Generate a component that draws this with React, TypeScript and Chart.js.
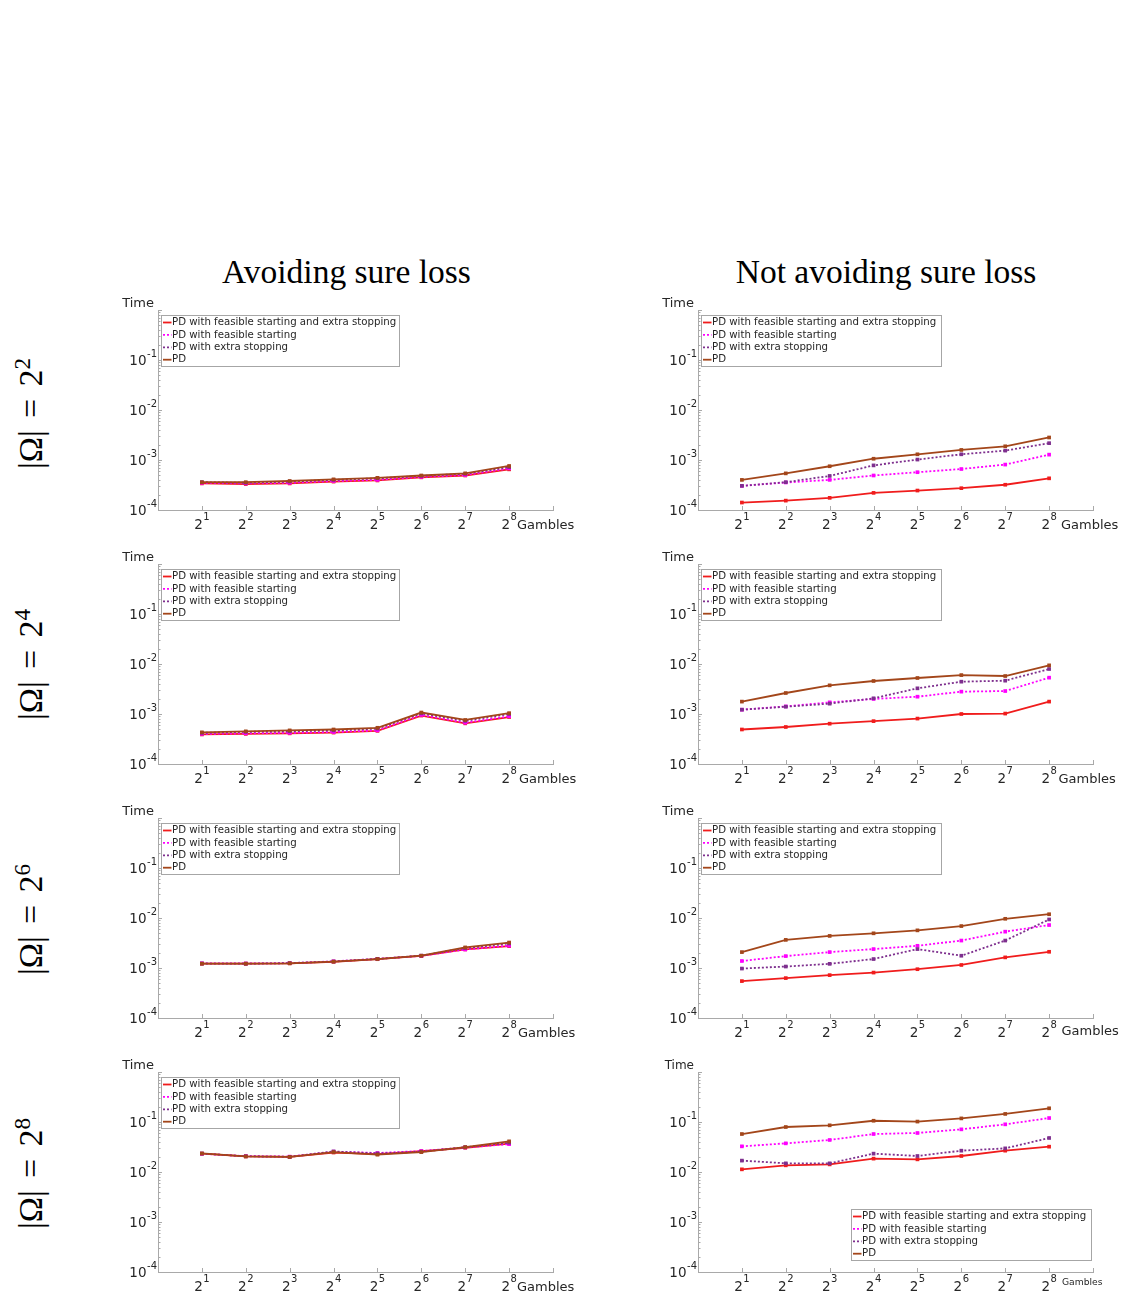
import React, { useEffect, useRef } from "react";
import { Chart, registerables } from "chart.js";

Chart.register(...registerables);

// ---------- data ----------
const exponents = [1, 2, 3, 4, 5, 6, 7, 8];
const seriesLabels = [
  "PD with feasible starting and extra stopping",
  "PD with feasible starting",
  "PD with extra stopping",
  "PD",
];
const yTickValues = [1e-4, 1e-3, 1e-2, 1e-1];
const columnTitles = ["Avoiding sure loss", "Not avoiding sure loss"];
const rowOmegaExponents = [2, 4, 6, 8];
const xAxisName = "Gambles";
const yAxisName = "Time";

// |Ω| = 2^2, avoiding sure loss
const o2AvoidFeasExtra = [3.4e-4, 3.3e-4, 3.4e-4, 3.7e-4, 3.9e-4, 4.5e-4, 4.9e-4, 6.5e-4];
const o2AvoidFeas = [3.5e-4, 3.4e-4, 3.5e-4, 3.8e-4, 4.0e-4, 4.6e-4, 5.0e-4, 6.8e-4];
const o2AvoidExtra = [3.6e-4, 3.5e-4, 3.7e-4, 4.0e-4, 4.3e-4, 4.8e-4, 5.3e-4, 7.2e-4];
const o2AvoidPD = [3.6e-4, 3.6e-4, 3.8e-4, 4.1e-4, 4.4e-4, 4.9e-4, 5.4e-4, 7.6e-4];
// |Ω| = 2^2, not avoiding sure loss
const o2NotFeasExtra = [1.41e-4, 1.54e-4, 1.75e-4, 2.2e-4, 2.45e-4, 2.73e-4, 3.2e-4, 4.3e-4];
const o2NotFeas = [3.04e-4, 3.55e-4, 4.0e-4, 4.9e-4, 5.7e-4, 6.6e-4, 8.1e-4, 1.28e-3];
const o2NotExtra = [3.04e-4, 3.6e-4, 4.8e-4, 7.8e-4, 1.02e-3, 1.3e-3, 1.54e-3, 2.17e-3];
const o2NotPD = [4.0e-4, 5.4e-4, 7.5e-4, 1.06e-3, 1.3e-3, 1.59e-3, 1.88e-3, 2.82e-3];

// |Ω| = 2^4, avoiding sure loss
const o4AvoidFeasExtra = [3.9e-4, 4.0e-4, 4.1e-4, 4.25e-4, 4.6e-4, 9.3e-4, 6.5e-4, 8.7e-4];
const o4AvoidFeas = [4.0e-4, 4.1e-4, 4.2e-4, 4.35e-4, 4.7e-4, 9.6e-4, 6.7e-4, 9.0e-4];
const o4AvoidExtra = [4.2e-4, 4.4e-4, 4.5e-4, 4.7e-4, 5.1e-4, 1.03e-3, 7.3e-4, 1.0e-3];
const o4AvoidPD = [4.3e-4, 4.5e-4, 4.7e-4, 4.9e-4, 5.3e-4, 1.07e-3, 7.6e-4, 1.04e-3];
// |Ω| = 2^4, not avoiding sure loss
const o4NotFeasExtra = [4.9e-4, 5.5e-4, 6.4e-4, 7.2e-4, 8.1e-4, 1.0e-3, 1.02e-3, 1.77e-3];
const o4NotFeas = [1.22e-3, 1.42e-3, 1.71e-3, 2.0e-3, 2.22e-3, 2.8e-3, 2.88e-3, 5.33e-3];
const o4NotExtra = [1.22e-3, 1.4e-3, 1.61e-3, 2.06e-3, 3.26e-3, 4.43e-3, 4.64e-3, 7.94e-3];
const o4NotPD = [1.77e-3, 2.63e-3, 3.74e-3, 4.57e-3, 5.25e-3, 6.0e-3, 5.75e-3, 9.4e-3];

// |Ω| = 2^6, avoiding sure loss
const o6AvoidFeasExtra = [1.22e-3, 1.22e-3, 1.24e-3, 1.33e-3, 1.5e-3, 1.74e-3, 2.35e-3, 2.74e-3];
const o6AvoidFeas = [1.24e-3, 1.23e-3, 1.25e-3, 1.36e-3, 1.52e-3, 1.75e-3, 2.35e-3, 2.8e-3];
const o6AvoidExtra = [1.23e-3, 1.22e-3, 1.25e-3, 1.35e-3, 1.52e-3, 1.77e-3, 2.5e-3, 3.1e-3];
const o6AvoidPD = [1.22e-3, 1.22e-3, 1.24e-3, 1.34e-3, 1.51e-3, 1.76e-3, 2.58e-3, 3.23e-3];
// |Ω| = 2^6, not avoiding sure loss
const o6NotFeasExtra = [5.47e-4, 6.28e-4, 7.2e-4, 8.1e-4, 9.46e-4, 1.15e-3, 1.63e-3, 2.11e-3];
const o6NotFeas = [1.38e-3, 1.73e-3, 2.08e-3, 2.39e-3, 2.78e-3, 3.54e-3, 5.33e-3, 7.23e-3];
const o6NotExtra = [9.75e-4, 1.07e-3, 1.21e-3, 1.51e-3, 2.39e-3, 1.76e-3, 3.54e-3, 9.35e-3];
const o6NotPD = [2.08e-3, 3.65e-3, 4.38e-3, 4.94e-3, 5.66e-3, 6.9e-3, 9.64e-3, 1.19e-2];

// |Ω| = 2^8, avoiding sure loss
const o8AvoidFeasExtra = [0.0232, 0.0205, 0.02, 0.0245, 0.0228, 0.026, 0.0305, 0.037];
const o8AvoidFeas = [0.0232, 0.0208, 0.0203, 0.0255, 0.024, 0.0262, 0.031, 0.036];
const o8AvoidExtra = [0.0234, 0.0206, 0.0201, 0.0258, 0.0235, 0.0255, 0.0312, 0.0385];
const o8AvoidPD = [0.0235, 0.0205, 0.02, 0.025, 0.0222, 0.025, 0.0315, 0.041];
// |Ω| = 2^8, not avoiding sure loss
const o8NotFeasExtra = [1.13e-2, 1.36e-2, 1.42e-2, 1.85e-2, 1.79e-2, 2.09e-2, 2.67e-2, 3.21e-2];
const o8NotFeas = [3.26e-2, 3.74e-2, 4.37e-2, 5.75e-2, 6.03e-2, 7.13e-2, 8.98e-2, 0.12];
const o8NotExtra = [1.69e-2, 1.49e-2, 1.49e-2, 2.33e-2, 2.09e-2, 2.67e-2, 2.97e-2, 4.79e-2];
const o8NotPD = [5.75e-2, 7.94e-2, 8.58e-2, 0.106, 0.102, 0.118, 0.145, 0.188];

// ---------- styles / layout ----------
const seriesStyles = [
  { color: "#f01c1c", dash: [] as number[], order: 4 },
  { color: "#ff00ff", dash: [2, 2], order: 3 },
  { color: "#7e2f8e", dash: [2, 2], order: 2 },
  { color: "#a3461a", dash: [] as number[], order: 1 },
];
const AXIS_COLOR = "#a9a9a9";
const TEXT_COLOR = "#262626";
const FONT = "DejaVu Sans";

const PLOT_W = 395;
const PLOT_H = 200;
const PAD_L = 58;
const PAD_T = 22;
const PAD_R = 32;
const PAD_B = 30;
const CANVAS_W = PAD_L + PLOT_W + PAD_R;
const CANVAS_H = PAD_T + PLOT_H + PAD_B;
const COL_AXIS_X = [158, 698];
const ROW_BOTTOM = [510, 764, 1018, 1272];
const ROW_LABEL_CY = [413, 664, 919, 1173];
const TITLE_CX = [346.5, 886];

type PanelSpec = {
  row: number;
  col: number;
  series: number[][];
  legendPos: "nw" | "se";
  gamblesDx: number;
  gamblesBase: number;
  gamblesSize: number;
  timeSize: number;
};

const panels: PanelSpec[] = [
  { row: 0, col: 0, series: [o2AvoidFeasExtra, o2AvoidFeas, o2AvoidExtra, o2AvoidPD], legendPos: "nw", gamblesDx: -36, gamblesBase: 18.5, gamblesSize: 13, timeSize: 13 },
  { row: 0, col: 1, series: [o2NotFeasExtra, o2NotFeas, o2NotExtra, o2NotPD], legendPos: "nw", gamblesDx: -32, gamblesBase: 18.5, gamblesSize: 13, timeSize: 13 },
  { row: 1, col: 0, series: [o4AvoidFeasExtra, o4AvoidFeas, o4AvoidExtra, o4AvoidPD], legendPos: "nw", gamblesDx: -34, gamblesBase: 18.5, gamblesSize: 13, timeSize: 13 },
  { row: 1, col: 1, series: [o4NotFeasExtra, o4NotFeas, o4NotExtra, o4NotPD], legendPos: "nw", gamblesDx: -34.5, gamblesBase: 18.5, gamblesSize: 13, timeSize: 13 },
  { row: 2, col: 0, series: [o6AvoidFeasExtra, o6AvoidFeas, o6AvoidExtra, o6AvoidPD], legendPos: "nw", gamblesDx: -35, gamblesBase: 18.5, gamblesSize: 13, timeSize: 13 },
  { row: 2, col: 1, series: [o6NotFeasExtra, o6NotFeas, o6NotExtra, o6NotPD], legendPos: "nw", gamblesDx: -31.5, gamblesBase: 16.5, gamblesSize: 13, timeSize: 13 },
  { row: 3, col: 0, series: [o8AvoidFeasExtra, o8AvoidFeas, o8AvoidExtra, o8AvoidPD], legendPos: "nw", gamblesDx: -36, gamblesBase: 18.5, gamblesSize: 13, timeSize: 13 },
  { row: 3, col: 1, series: [o8NotFeasExtra, o8NotFeas, o8NotExtra, o8NotPD], legendPos: "se", gamblesDx: -31, gamblesBase: 12.5, gamblesSize: 9.2, timeSize: 12 },
];

const BASE_FONT = `13.5px "${FONT}"`;
const EXP_FONT = `10px "${FONT}"`;

function drawPower(
  ctx: CanvasRenderingContext2D,
  base: string,
  exp: string,
  x: number,
  baseline: number,
  align: "center" | "right",
  raise: number
) {
  ctx.font = BASE_FONT;
  const wb = ctx.measureText(base).width;
  ctx.font = EXP_FONT;
  const we = ctx.measureText(exp).width;
  const total = wb + we + 0.5;
  const sx = align === "center" ? x - total / 2 : x - total;
  ctx.textAlign = "left";
  ctx.textBaseline = "alphabetic";
  ctx.font = BASE_FONT;
  ctx.fillText(base, sx, baseline);
  ctx.font = EXP_FONT;
  ctx.fillText(exp, sx + wb + 0.5, baseline - raise);
}

function makeDecorPlugin(spec: PanelSpec) {
  return {
    id: "decor" + spec.row + spec.col,
    afterDraw(chart: any) {
      const ctx = chart.ctx as CanvasRenderingContext2D;
      const ca = chart.chartArea;
      const xs = chart.scales.x;
      const ys = chart.scales.y;
      ctx.save();
      // inward tick marks
      ctx.strokeStyle = AXIS_COLOR;
      ctx.lineWidth = 1;
      ctx.beginPath();
      for (let d = -4; d <= 0; d++) {
        for (let m = 1; m <= 9; m++) {
          const v = m * Math.pow(10, d);
          if (v > 1.0000001) break;
          const y = Math.round(ys.getPixelForValue(v)) + 0.5;
          const len = m === 1 ? 4 : 2.5;
          ctx.moveTo(ca.left, y);
          ctx.lineTo(ca.left + len, y);
        }
      }
      for (const e of [...exponents, 9]) {
        const x = Math.round(xs.getPixelForValue(e)) + 0.5;
        ctx.moveTo(x, ca.bottom);
        ctx.lineTo(x, ca.bottom - 4);
      }
      ctx.stroke();

      // tick labels (powers with real superscripts)
      ctx.fillStyle = TEXT_COLOR;
      xs.ticks.forEach((t: any) => {
        const x = xs.getPixelForValue(t.value);
        drawPower(ctx, "2", String(t.value), x, ca.bottom + 18.5, "center", 9);
      });
      ys.ticks.forEach((t: any) => {
        const y = ys.getPixelForValue(t.value);
        drawPower(ctx, "10", String(Math.round(Math.log10(t.value))), ca.left - 1, y + 5, "right", 8);
      });

      // axis names
      ctx.fillStyle = TEXT_COLOR;
      ctx.textBaseline = "middle";
      ctx.font = `${spec.timeSize}px "${FONT}"`;
      ctx.textAlign = "right";
      ctx.fillText(yAxisName, ca.left - 4, ca.top - 6);
      ctx.font = `${spec.gamblesSize}px "${FONT}"`;
      ctx.textAlign = "left";
      ctx.textBaseline = "alphabetic";
      ctx.fillText(xAxisName, ca.right + spec.gamblesDx, ca.bottom + spec.gamblesBase);

      // legend
      const boxW = spec.col === 0 ? 238 : 240;
      const boxH = 51;
      let bx: number, by: number;
      if (spec.legendPos === "nw") {
        bx = Math.round(ca.left + 3);
        by = Math.round(ca.top + 5);
      } else {
        bx = Math.round(ca.right - 2 - boxW);
        by = Math.round(ca.bottom - 12 - boxH);
      }
      ctx.fillStyle = "#ffffff";
      ctx.fillRect(bx, by, boxW, boxH);
      ctx.strokeStyle = "#a6a6a6";
      ctx.lineWidth = 1;
      ctx.strokeRect(bx + 0.5, by + 0.5, boxW, boxH);
      const dsets = chart.data.datasets;
      dsets.forEach((ds: any, i: number) => {
        const cy = by + 7.5 + i * 12.4;
        ctx.strokeStyle = ds.borderColor;
        ctx.lineWidth = ds.borderWidth;
        ctx.setLineDash(ds.borderDash || []);
        ctx.beginPath();
        ctx.moveTo(bx + 2, cy);
        ctx.lineTo(bx + 10.5, cy);
        ctx.stroke();
        ctx.setLineDash([]);
        ctx.fillStyle = TEXT_COLOR;
        ctx.font = `10.2px "${FONT}"`;
        ctx.textAlign = "left";
        ctx.textBaseline = "middle";
        ctx.fillText(ds.label, bx + 11, cy);
      });
      ctx.restore();
    },
  };
}

function Panel({ spec }: { spec: PanelSpec }) {
  const ref = useRef<HTMLCanvasElement>(null);
  useEffect(() => {
    if (!ref.current) return;
    const datasets = spec.series.map((vals, i) => ({
      label: seriesLabels[i],
      data: exponents.map((e, j) => ({ x: e, y: vals[j] })),
      borderColor: seriesStyles[i].color,
      backgroundColor: seriesStyles[i].color,
      borderWidth: 1.8,
      borderDash: seriesStyles[i].dash,
      order: seriesStyles[i].order,
      pointStyle: "rect",
      pointRadius: 2.6,
      pointBorderWidth: 0,
      pointBackgroundColor: seriesStyles[i].color,
      tension: 0,
      fill: false,
    }));
    const chart = new Chart(ref.current, {
      type: "line",
      data: { datasets },
      options: {
        animation: false,
        responsive: false,
        devicePixelRatio: 1,
        layout: { padding: { left: 0, top: PAD_T, right: PAD_R, bottom: 0 } },
        plugins: { legend: { display: false }, tooltip: { enabled: false }, title: { display: false } },
        scales: {
          x: {
            type: "linear",
            min: 0,
            max: 9,
            afterBuildTicks: (s: any) => {
              s.ticks = exponents.map((v) => ({ value: v }));
            },
            afterFit: (s: any) => {
              s.height = PAD_B;
            },
            grid: { display: false, drawTicks: false },
            border: { display: true, color: AXIS_COLOR, width: 1 },
            ticks: { display: false, autoSkip: false },
          },
          y: {
            type: "logarithmic",
            min: 1e-4,
            max: 1,
            afterBuildTicks: (s: any) => {
              s.ticks = yTickValues.map((v) => ({ value: v }));
            },
            afterFit: (s: any) => {
              s.width = PAD_L;
            },
            grid: { display: false, drawTicks: false },
            border: { display: true, color: AXIS_COLOR, width: 1 },
            ticks: { display: false, autoSkip: false },
          },
        },
      } as any,
      plugins: [makeDecorPlugin(spec)],
    });
    return () => chart.destroy();
  }, [spec]);
  const left = COL_AXIS_X[spec.col] - PAD_L;
  const top = ROW_BOTTOM[spec.row] - PLOT_H - PAD_T;
  return (
    <canvas
      ref={ref}
      width={CANVAS_W}
      height={CANVAS_H}
      style={{ position: "absolute", left, top, width: CANVAS_W, height: CANVAS_H }}
    />
  );
}

export default function App() {
  return (
    <div style={{ position: "absolute", left: 0, top: 0, width: 1128, height: 1293, background: "#fff", overflow: "hidden" }}>
      {columnTitles.map((t, i) => (
        <div
          key={t}
          style={{
            position: "absolute",
            left: TITLE_CX[i] - 250,
            width: 500,
            top: 255.5,
            textAlign: "center",
            fontFamily: '"Liberation Serif", serif',
            fontSize: 33.5,
            lineHeight: "31px",
            color: "#000",
            whiteSpace: "nowrap",
          }}
        >
          {t}
        </div>
      ))}
      {rowOmegaExponents.map((e, i) => (
        <div
          key={e}
          style={{
            position: "absolute",
            left: 30 - 100,
            top: ROW_LABEL_CY[i] - 15.5,
            width: 200,
            height: 31,
            lineHeight: "31px",
            textAlign: "center",
            fontFamily: '"Liberation Serif", serif',
            fontSize: 34,
            color: "#000",
            whiteSpace: "nowrap",
            transform: "rotate(-90deg)",
            transformOrigin: "50% 50%",
          }}
        >
          |Ω|<span style={{ margin: "0 0.36em" }}>=</span>2
          <span style={{ fontSize: "0.68em", position: "relative", top: "-0.5em" }}>{e}</span>
        </div>
      ))}
      {panels.map((p) => (
        <Panel key={p.row + "-" + p.col} spec={p} />
      ))}
    </div>
  );
}
